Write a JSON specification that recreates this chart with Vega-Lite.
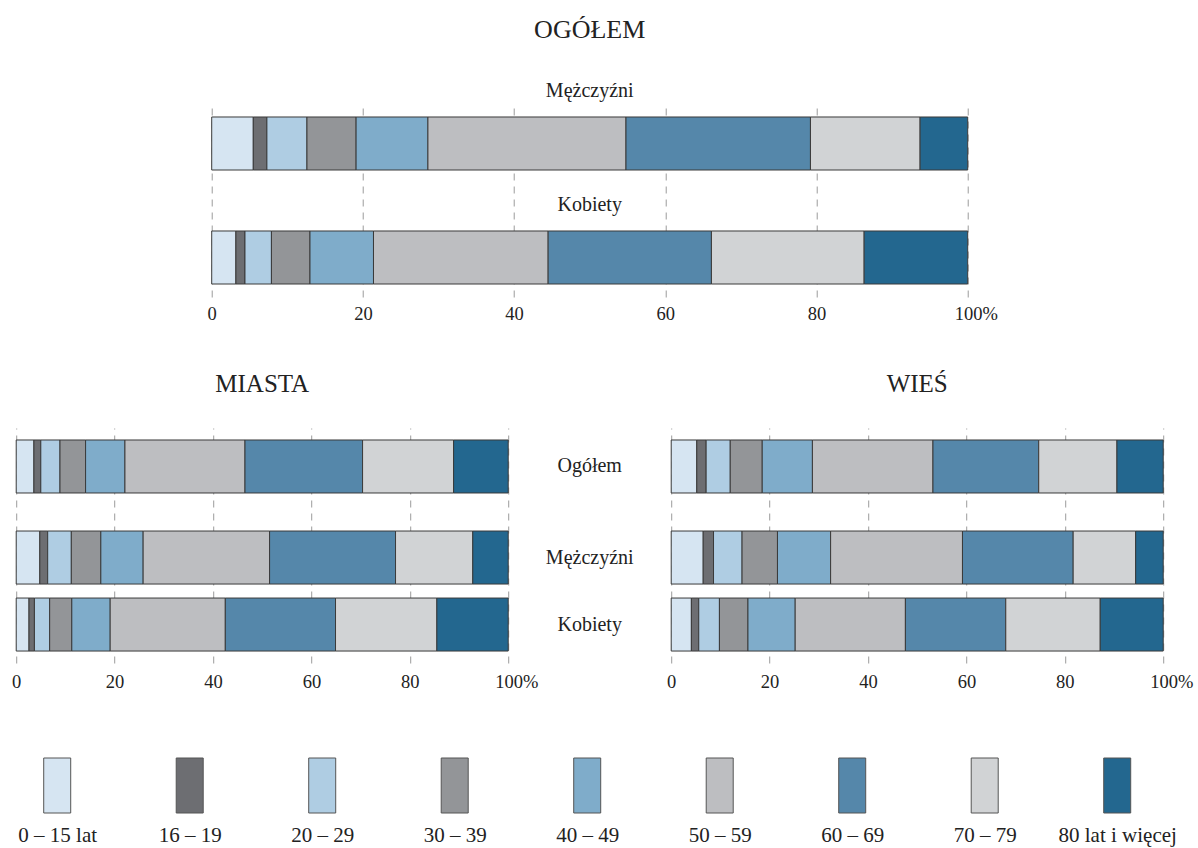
{
  "$schema": "https://vega.github.io/schema/vega-lite/v6.json",
  "background": "white",
  "padding": {"left": 11, "top": 17, "right": 5, "bottom": 5},
  "config": {
    "font": "Liberation Serif",
    "view": {"stroke": null},
    "title": {"font": "Liberation Serif", "fontSize": 25, "fontWeight": "normal", "color": "#222", "anchor": "middle", "frame": "group", "baseline": "alphabetic"}
  },
  "datasets": {
    "segmenty": [
      {"panel": "OGÓŁEM", "grupa": "Mężczyźni", "wiek": "0 – 15 lat", "udzial": 5.5},
      {"panel": "OGÓŁEM", "grupa": "Mężczyźni", "wiek": "16 – 19", "udzial": 1.8},
      {"panel": "OGÓŁEM", "grupa": "Mężczyźni", "wiek": "20 – 29", "udzial": 5.3},
      {"panel": "OGÓŁEM", "grupa": "Mężczyźni", "wiek": "30 – 39", "udzial": 6.5},
      {"panel": "OGÓŁEM", "grupa": "Mężczyźni", "wiek": "40 – 49", "udzial": 9.5},
      {"panel": "OGÓŁEM", "grupa": "Mężczyźni", "wiek": "50 – 59", "udzial": 26.2},
      {"panel": "OGÓŁEM", "grupa": "Mężczyźni", "wiek": "60 – 69", "udzial": 24.4},
      {"panel": "OGÓŁEM", "grupa": "Mężczyźni", "wiek": "70 – 79", "udzial": 14.5},
      {"panel": "OGÓŁEM", "grupa": "Mężczyźni", "wiek": "80 lat i więcej", "udzial": 6.3},
      {"panel": "OGÓŁEM", "grupa": "Kobiety", "wiek": "0 – 15 lat", "udzial": 3.2},
      {"panel": "OGÓŁEM", "grupa": "Kobiety", "wiek": "16 – 19", "udzial": 1.2},
      {"panel": "OGÓŁEM", "grupa": "Kobiety", "wiek": "20 – 29", "udzial": 3.5},
      {"panel": "OGÓŁEM", "grupa": "Kobiety", "wiek": "30 – 39", "udzial": 5.1},
      {"panel": "OGÓŁEM", "grupa": "Kobiety", "wiek": "40 – 49", "udzial": 8.4},
      {"panel": "OGÓŁEM", "grupa": "Kobiety", "wiek": "50 – 59", "udzial": 23.1},
      {"panel": "OGÓŁEM", "grupa": "Kobiety", "wiek": "60 – 69", "udzial": 21.6},
      {"panel": "OGÓŁEM", "grupa": "Kobiety", "wiek": "70 – 79", "udzial": 20.2},
      {"panel": "OGÓŁEM", "grupa": "Kobiety", "wiek": "80 lat i więcej", "udzial": 13.7},
      {"panel": "MIASTA", "grupa": "Ogółem", "wiek": "0 – 15 lat", "udzial": 3.6},
      {"panel": "MIASTA", "grupa": "Ogółem", "wiek": "16 – 19", "udzial": 1.4},
      {"panel": "MIASTA", "grupa": "Ogółem", "wiek": "20 – 29", "udzial": 3.9},
      {"panel": "MIASTA", "grupa": "Ogółem", "wiek": "30 – 39", "udzial": 5.2},
      {"panel": "MIASTA", "grupa": "Ogółem", "wiek": "40 – 49", "udzial": 8.0},
      {"panel": "MIASTA", "grupa": "Ogółem", "wiek": "50 – 59", "udzial": 24.4},
      {"panel": "MIASTA", "grupa": "Ogółem", "wiek": "60 – 69", "udzial": 23.9},
      {"panel": "MIASTA", "grupa": "Ogółem", "wiek": "70 – 79", "udzial": 18.5},
      {"panel": "MIASTA", "grupa": "Ogółem", "wiek": "80 lat i więcej", "udzial": 11.1},
      {"panel": "MIASTA", "grupa": "Mężczyźni", "wiek": "0 – 15 lat", "udzial": 4.8},
      {"panel": "MIASTA", "grupa": "Mężczyźni", "wiek": "16 – 19", "udzial": 1.6},
      {"panel": "MIASTA", "grupa": "Mężczyźni", "wiek": "20 – 29", "udzial": 4.8},
      {"panel": "MIASTA", "grupa": "Mężczyźni", "wiek": "30 – 39", "udzial": 6.0},
      {"panel": "MIASTA", "grupa": "Mężczyźni", "wiek": "40 – 49", "udzial": 8.6},
      {"panel": "MIASTA", "grupa": "Mężczyźni", "wiek": "50 – 59", "udzial": 25.7},
      {"panel": "MIASTA", "grupa": "Mężczyźni", "wiek": "60 – 69", "udzial": 25.6},
      {"panel": "MIASTA", "grupa": "Mężczyźni", "wiek": "70 – 79", "udzial": 15.7},
      {"panel": "MIASTA", "grupa": "Mężczyźni", "wiek": "80 lat i więcej", "udzial": 7.2},
      {"panel": "MIASTA", "grupa": "Kobiety", "wiek": "0 – 15 lat", "udzial": 2.6},
      {"panel": "MIASTA", "grupa": "Kobiety", "wiek": "16 – 19", "udzial": 1.1},
      {"panel": "MIASTA", "grupa": "Kobiety", "wiek": "20 – 29", "udzial": 3.1},
      {"panel": "MIASTA", "grupa": "Kobiety", "wiek": "30 – 39", "udzial": 4.5},
      {"panel": "MIASTA", "grupa": "Kobiety", "wiek": "40 – 49", "udzial": 7.8},
      {"panel": "MIASTA", "grupa": "Kobiety", "wiek": "50 – 59", "udzial": 23.4},
      {"panel": "MIASTA", "grupa": "Kobiety", "wiek": "60 – 69", "udzial": 22.4},
      {"panel": "MIASTA", "grupa": "Kobiety", "wiek": "70 – 79", "udzial": 20.6},
      {"panel": "MIASTA", "grupa": "Kobiety", "wiek": "80 lat i więcej", "udzial": 14.5},
      {"panel": "WIEŚ", "grupa": "Ogółem", "wiek": "0 – 15 lat", "udzial": 5.2},
      {"panel": "WIEŚ", "grupa": "Ogółem", "wiek": "16 – 19", "udzial": 1.9},
      {"panel": "WIEŚ", "grupa": "Ogółem", "wiek": "20 – 29", "udzial": 4.9},
      {"panel": "WIEŚ", "grupa": "Ogółem", "wiek": "30 – 39", "udzial": 6.5},
      {"panel": "WIEŚ", "grupa": "Ogółem", "wiek": "40 – 49", "udzial": 10.2},
      {"panel": "WIEŚ", "grupa": "Ogółem", "wiek": "50 – 59", "udzial": 24.5},
      {"panel": "WIEŚ", "grupa": "Ogółem", "wiek": "60 – 69", "udzial": 21.5},
      {"panel": "WIEŚ", "grupa": "Ogółem", "wiek": "70 – 79", "udzial": 15.9},
      {"panel": "WIEŚ", "grupa": "Ogółem", "wiek": "80 lat i więcej", "udzial": 9.4},
      {"panel": "WIEŚ", "grupa": "Mężczyźni", "wiek": "0 – 15 lat", "udzial": 6.5},
      {"panel": "WIEŚ", "grupa": "Mężczyźni", "wiek": "16 – 19", "udzial": 2.1},
      {"panel": "WIEŚ", "grupa": "Mężczyźni", "wiek": "20 – 29", "udzial": 5.8},
      {"panel": "WIEŚ", "grupa": "Mężczyźni", "wiek": "30 – 39", "udzial": 7.2},
      {"panel": "WIEŚ", "grupa": "Mężczyźni", "wiek": "40 – 49", "udzial": 10.8},
      {"panel": "WIEŚ", "grupa": "Mężczyźni", "wiek": "50 – 59", "udzial": 26.8},
      {"panel": "WIEŚ", "grupa": "Mężczyźni", "wiek": "60 – 69", "udzial": 22.5},
      {"panel": "WIEŚ", "grupa": "Mężczyźni", "wiek": "70 – 79", "udzial": 12.7},
      {"panel": "WIEŚ", "grupa": "Mężczyźni", "wiek": "80 lat i więcej", "udzial": 5.6},
      {"panel": "WIEŚ", "grupa": "Kobiety", "wiek": "0 – 15 lat", "udzial": 4.1},
      {"panel": "WIEŚ", "grupa": "Kobiety", "wiek": "16 – 19", "udzial": 1.5},
      {"panel": "WIEŚ", "grupa": "Kobiety", "wiek": "20 – 29", "udzial": 4.2},
      {"panel": "WIEŚ", "grupa": "Kobiety", "wiek": "30 – 39", "udzial": 5.8},
      {"panel": "WIEŚ", "grupa": "Kobiety", "wiek": "40 – 49", "udzial": 9.6},
      {"panel": "WIEŚ", "grupa": "Kobiety", "wiek": "50 – 59", "udzial": 22.4},
      {"panel": "WIEŚ", "grupa": "Kobiety", "wiek": "60 – 69", "udzial": 20.4},
      {"panel": "WIEŚ", "grupa": "Kobiety", "wiek": "70 – 79", "udzial": 19.2},
      {"panel": "WIEŚ", "grupa": "Kobiety", "wiek": "80 lat i więcej", "udzial": 12.8}
    ],
    "wiersze": [
      {"grupa": "Ogółem"},
      {"grupa": "Mężczyźni"},
      {"grupa": "Kobiety"}
    ],
    "wiekowe": [
      {"wiek": "0 – 15 lat"},
      {"wiek": "16 – 19"},
      {"wiek": "20 – 29"},
      {"wiek": "30 – 39"},
      {"wiek": "40 – 49"},
      {"wiek": "50 – 59"},
      {"wiek": "60 – 69"},
      {"wiek": "70 – 79"},
      {"wiek": "80 lat i więcej"}
    ]
  },
  "spacing": 49,
  "center": true,
  "vconcat": [
    {
      "width": 756,
      "height": 193,
      "title": {"text": "OGÓŁEM", "offset": 38, "fontSize": 26},
      "data": {"name": "segmenty"},
      "transform": [{"filter": "datum.panel === 'OGÓŁEM'"}],
      "encoding": {
        "y": {"field": "grupa", "type": "nominal", "sort": ["Mężczyźni", "Kobiety"], "scale": {"type": "band", "paddingInner": 0.535, "paddingOuter": 0.114}, "axis": null}
      },
      "layer": [
        {
          "mark": {"type": "bar", "stroke": "#3a3a3a", "strokeWidth": 1},
          "encoding": {
            "x": {"field": "udzial", "type": "quantitative", "stack": "zero", "scale": {"domain": [0, 100], "nice": false},
              "axis": {"values": [0, 20, 40, 60, 80, 100], "title": null, "domain": false, "ticks": false, "labelFontSize": 18.5, "labelColor": "#222", "labelPadding": 7, "labelFlush": false, "labelOverlap": false, "labelExpr": "datum.value === 100 ? '100%' : datum.label", "labelOffset": {"condition": {"test": "datum.value === 100", "value": 8}, "value": 0}, "grid": true, "gridColor": "#9b9b9b", "gridDash": [7, 6], "gridWidth": 1}},
            "color": {"field": "wiek", "type": "nominal", "legend": null,
              "scale": {"domain": ["0 – 15 lat", "16 – 19", "20 – 29", "30 – 39", "40 – 49", "50 – 59", "60 – 69", "70 – 79", "80 lat i więcej"],
                "range": ["#d6e5f2", "#6d6e72", "#afcde3", "#939598", "#7facca", "#bdbec1", "#5587aa", "#d1d3d5", "#23678f"]}},
            "order": {"field": "wiek", "sort": "ascending"}
          }
        },
        {
          "transform": [{"filter": "datum.wiek === '0 – 15 lat'"}],
          "mark": {"type": "text", "fontSize": 20, "color": "#222", "baseline": "middle", "yOffset": -52.5},
          "encoding": {"text": {"field": "grupa"}}
        }
      ]
    },
    {
      "spacing": 66,
      "center": false,
      "vconcat": [
        {
          "bounds": "flush",
          "spacing": 0,
          "hconcat": [
            {
              "width": 492,
              "height": 235,
              "title": {"text": "MIASTA", "offset": 31},
              "data": {"name": "segmenty"},
              "transform": [{"filter": "datum.panel === 'MIASTA'"}],
              "resolve": {"scale": {"y": "independent"}},
              "encoding": {
                "x": {"field": "udzial", "type": "quantitative", "stack": "zero", "scale": {"domain": [0, 100], "nice": false},
                  "axis": {"values": [0, 20, 40, 60, 80, 100], "title": null, "domain": false, "ticks": false, "labelFontSize": 18.5, "labelColor": "#222", "labelPadding": 9, "labelFlush": false, "labelOverlap": false, "labelExpr": "datum.value === 100 ? '100%' : datum.label", "labelOffset": {"condition": {"test": "datum.value === 100", "value": 8}, "value": 0}, "grid": true, "gridColor": "#9b9b9b", "gridDash": [7, 6], "gridWidth": 1}},
                "color": {"field": "wiek", "type": "nominal", "legend": null},
                "order": {"field": "wiek", "sort": "ascending"}
              },
              "layer": [
                {
                  "transform": [{"filter": "datum.grupa === 'Ogółem'"}],
                  "mark": {"type": "bar", "stroke": "#3a3a3a", "strokeWidth": 1},
                  "encoding": {"y": {"field": "grupa", "type": "nominal", "scale": {"type": "band", "paddingInner": 0.4176, "paddingOuter": 1, "align": 0.0659}, "axis": null}}
                },
                {
                  "transform": [{"filter": "datum.grupa !== 'Ogółem'"}],
                  "mark": {"type": "bar", "stroke": "#3a3a3a", "strokeWidth": 1},
                  "encoding": {"y": {"field": "grupa", "type": "nominal", "sort": ["Mężczyźni", "Kobiety"], "scale": {"type": "band", "paddingInner": 0.209, "paddingOuter": 0.858, "align": 0.896}, "axis": null}}
                }
              ]
            },
            {
              "width": 163,
              "height": 235,
              "data": {"name": "wiersze"},
              "resolve": {"scale": {"y": "independent"}},
              "layer": [
                {
                  "transform": [{"filter": "datum.grupa === 'Ogółem'"}],
                  "mark": {"type": "text", "fontSize": 20, "color": "#222", "baseline": "middle"},
                  "encoding": {
                    "y": {"field": "grupa", "type": "nominal", "scale": {"type": "band", "paddingInner": 0.4176, "paddingOuter": 1, "align": 0.0659}, "axis": null},
                    "text": {"field": "grupa"}
                  }
                },
                {
                  "transform": [{"filter": "datum.grupa !== 'Ogółem'"}],
                  "mark": {"type": "text", "fontSize": 20, "color": "#222", "baseline": "middle"},
                  "encoding": {
                    "y": {"field": "grupa", "type": "nominal", "sort": ["Mężczyźni", "Kobiety"], "scale": {"type": "band", "paddingInner": 0.209, "paddingOuter": 0.858, "align": 0.896}, "axis": null},
                    "text": {"field": "grupa"}
                  }
                }
              ]
            },
            {
              "width": 492,
              "height": 235,
              "title": {"text": "WIEŚ", "offset": 31},
              "data": {"name": "segmenty"},
              "transform": [{"filter": "datum.panel === 'WIEŚ'"}],
              "resolve": {"scale": {"y": "independent"}},
              "encoding": {
                "x": {"field": "udzial", "type": "quantitative", "stack": "zero", "scale": {"domain": [0, 100], "nice": false},
                  "axis": {"values": [0, 20, 40, 60, 80, 100], "title": null, "domain": false, "ticks": false, "labelFontSize": 18.5, "labelColor": "#222", "labelPadding": 9, "labelFlush": false, "labelOverlap": false, "labelExpr": "datum.value === 100 ? '100%' : datum.label", "labelOffset": {"condition": {"test": "datum.value === 100", "value": 8}, "value": 0}, "grid": true, "gridColor": "#9b9b9b", "gridDash": [7, 6], "gridWidth": 1}},
                "color": {"field": "wiek", "type": "nominal", "legend": null},
                "order": {"field": "wiek", "sort": "ascending"}
              },
              "layer": [
                {
                  "transform": [{"filter": "datum.grupa === 'Ogółem'"}],
                  "mark": {"type": "bar", "stroke": "#3a3a3a", "strokeWidth": 1},
                  "encoding": {"y": {"field": "grupa", "type": "nominal", "scale": {"type": "band", "paddingInner": 0.4176, "paddingOuter": 1, "align": 0.0659}, "axis": null}}
                },
                {
                  "transform": [{"filter": "datum.grupa !== 'Ogółem'"}],
                  "mark": {"type": "bar", "stroke": "#3a3a3a", "strokeWidth": 1},
                  "encoding": {"y": {"field": "grupa", "type": "nominal", "sort": ["Mężczyźni", "Kobiety"], "scale": {"type": "band", "paddingInner": 0.209, "paddingOuter": 0.858, "align": 0.896}, "axis": null}}
                }
              ]
            }
          ]
        },
        {
          "width": 1142,
          "height": 55,
          "data": {"name": "wiekowe"},
          "mark": {"type": "bar", "width": 27, "stroke": "#555", "strokeWidth": 1},
          "encoding": {
            "x": {"field": "wiek", "type": "nominal", "sort": ["0 – 15 lat", "16 – 19", "20 – 29", "30 – 39", "40 – 49", "50 – 59", "60 – 69", "70 – 79", "80 lat i więcej"],
              "scale": {"type": "point", "padding": 0.3094},
              "axis": {"orient": "bottom", "title": null, "domain": false, "ticks": false, "grid": false, "labelAngle": 0, "labelFontSize": 21, "labelColor": "#222", "labelPadding": 11, "labelLimit": 300}},
            "color": {"field": "wiek", "type": "nominal", "legend": null}
          }
        }
      ]
    }
  ]
}
